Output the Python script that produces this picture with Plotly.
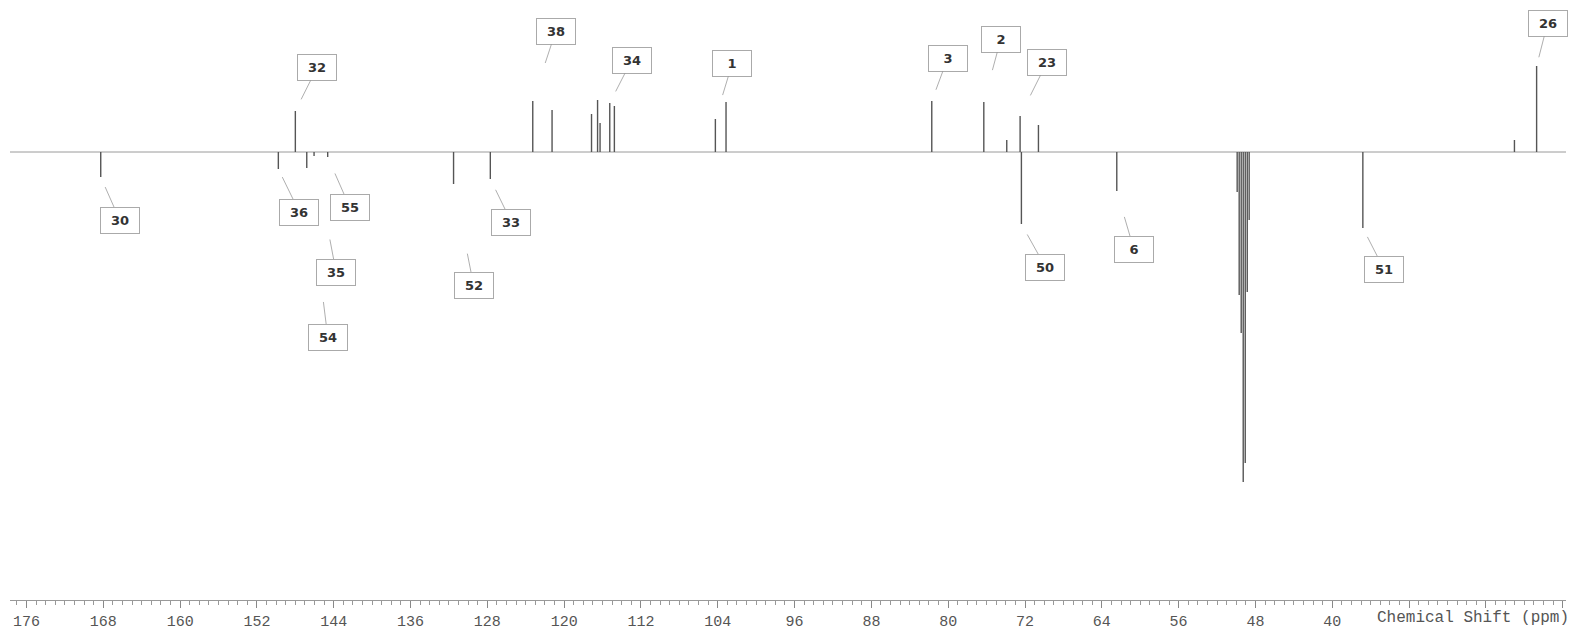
import plotly.graph_objects as go

# DEPT-135 style 13C spectrum (ppm, relative intensity)
peak_ppm = [
    168.27, 149.77, 148.00, 146.81, 146.05, 144.63, 131.52, 127.69,
    123.27, 121.26, 117.15, 116.52, 116.26, 115.25, 114.77,
    104.25, 103.14, 81.71, 76.29, 73.90, 72.51, 72.375, 70.60, 62.44,
    49.90, 49.69, 49.48, 49.27, 49.06, 48.85, 48.65,
    36.81, 21.02, 18.71,
]
peak_int = [
    -25, -17, 41, -16, -4, -5, -32, -27,
    51, 42, 38, 52, 29, 49, 46,
    33, 50, 51, 50, 12, 36, -72, 27, -39,
    -40, -143, -181, -330, -311, -140, -68,
    -76, 12, 86,
]

# assignment labels and the peak each one points at
label_text = ["30", "36", "55", "35", "54", "32", "52", "33", "38",
              "34", "1", "3", "2", "23", "50", "6", "51", "26"]
label_ppm = [168.27, 149.77, 144.63, 146.05, 146.81, 148.00, 131.52, 127.69, 123.27,
             115.25, 104.25, 81.71, 76.29, 72.51, 72.375, 62.44, 36.81, 18.71]
label_int = [-25, -17, -5, -4, -16, 41, -32, -27, 51,
             49, 33, 51, 50, 36, -72, -39, -76, 86]

tick_vals = [176, 168, 160, 152, 144, 136, 128, 120, 112, 104, 96, 88, 80, 72,
             64, 56, 48, 40, 32, 24, 16]
tick_text = ["176", "168", "160", "152", "144", "136", "128", "120", "112", "104",
             "96", "88", "80", "72", "64", "56", "48", "40", "", "", ""]

X_RANGE = [177.72, 15.65]

# label box offsets from peak tip (px) and gap before the leader starts
offsets = [(19, 43, 11), (21, 43, 9), (22, 50, 18), (22, 116, 85), (21, 169, 135),
           (22, -44, 13), (20, 101, 71), (21, 43, 12), (23, -70, 40),
           (22, -43, 13), (17, -56, 25), (16, -43, 12), (17, -63, 33),
           (27, -54, 23), (24, 43, 12), (17, 58, 27), (21, 41, 10), (11, -43, 9)]

xs, ys = [], []
for p, h in zip(peak_ppm, peak_int):
    xs += [p, p, None]
    ys += [0, h, None]

fig = go.Figure()
fig.add_trace(go.Scatter(
    x=X_RANGE, y=[0, 0], mode="lines",
    line=dict(color="#9a9a9a", width=1), hoverinfo="skip",
))
fig.add_trace(go.Scatter(
    x=xs, y=ys, mode="lines",
    line=dict(color="#555555", width=1.4),
    hovertemplate="%{x:.2f} ppm<extra></extra>",
))

for txt, p, h, (ax, ay, gap) in zip(label_text, label_ppm, label_int, offsets):
    fig.add_annotation(
        x=p, y=h, text=f"<b>{txt}</b>", showarrow=True, arrowhead=0,
        arrowwidth=0.8, arrowcolor="#999999", ax=ax, ay=ay, standoff=gap,
        font=dict(family="DejaVu Sans", size=13, color="#333333"),
        bordercolor="#aaaaaa", borderwidth=1, borderpad=5, bgcolor="white",
        width=28,
    )

fig.add_annotation(
    xref="paper", yref="paper", x=1.003, y=0, xanchor="right", yanchor="top",
    yshift=-7, text="Chemical Shift (ppm)", showarrow=False,
    font=dict(family="Liberation Mono", size=16, color="#555555"),
)

fig.update_layout(
    width=1574, height=637,
    paper_bgcolor="white", plot_bgcolor="white",
    margin=dict(l=10, r=8, t=5, b=37),
    showlegend=False,
    xaxis=dict(
        range=X_RANGE, showgrid=False, zeroline=False,
        showline=True, linecolor="#999999", linewidth=1,
        tickmode="array", tickvals=tick_vals, ticktext=tick_text,
        ticks="outside", ticklen=7, tickcolor="#888888",
        tickfont=dict(family="Liberation Mono", size=15, color="#555555"),
        minor=dict(tickmode="linear", tick0=0, dtick=1, ticks="outside",
                   ticklen=4, tickcolor="#999999"),
    ),
    yaxis=dict(range=[-448, 147], visible=False),
)

# page margin would push the fixed-size figure off the window
fig.write_html("out.html", config={"displayModeBar": False},
               post_script="document.body.style.margin='0';")
